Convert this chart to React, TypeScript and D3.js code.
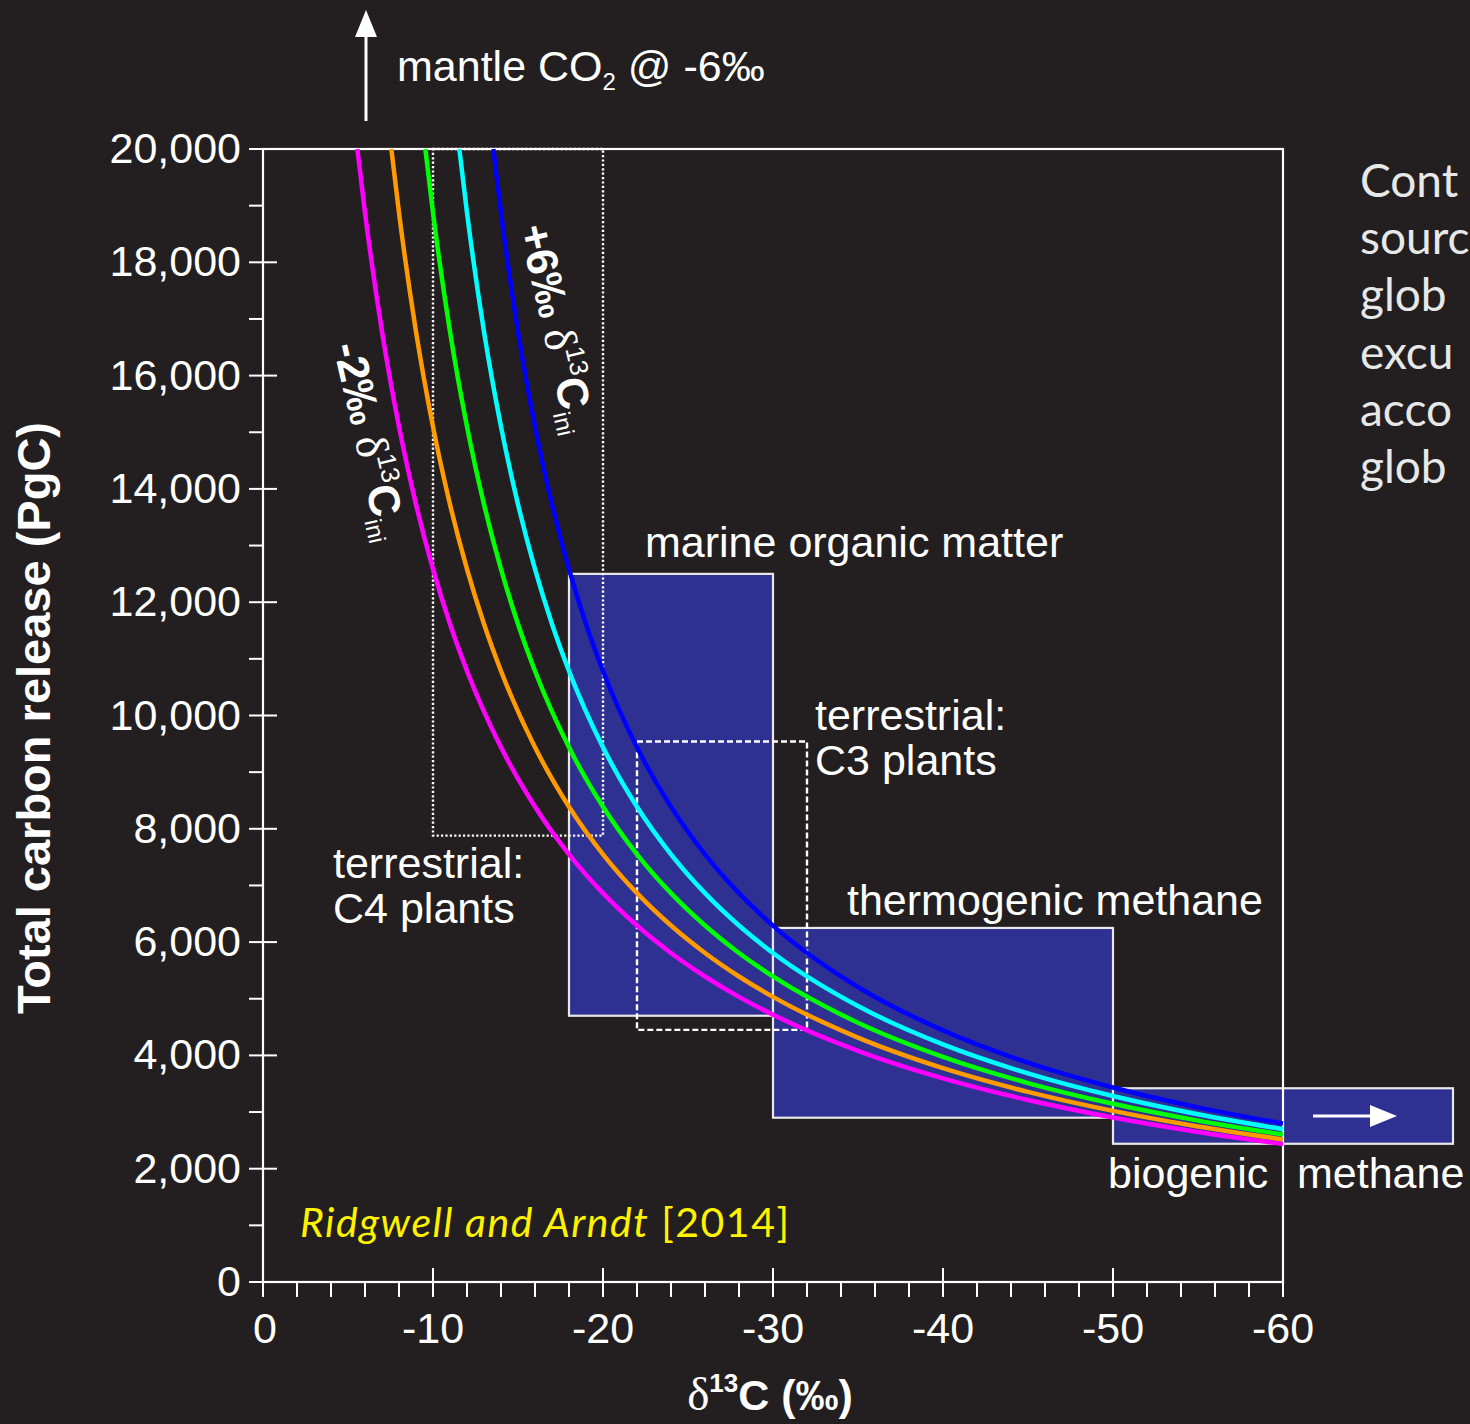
import React, { useEffect } from "react";
import * as d3 from "d3";

// ---------- data ----------
const curveNames = ["-2‰", "0‰", "+2‰", "+4‰", "+6‰"];

const deltaMagenta = [-5.55, -6, -7, -8, -9, -10, -11, -12, -14, -16, -18, -20, -22, -24, -26, -28, -30, -35, -40, -45, -50, -55, -60];
const massMagenta = [20000, 18875, 16778, 15100, 13727, 12583, 11615, 10786, 9438, 8389, 7550, 6864, 6292, 5808, 5393, 5033, 4719, 4081, 3595, 3213, 2904, 2649, 2435];

const deltaOrange = [-7.55, -8, -9, -10, -11, -12, -13, -14, -16, -18, -20, -22, -24, -26, -28, -30, -35, -40, -45, -50, -55, -60];
const massOrange = [20000, 18875, 16778, 15100, 13727, 12583, 11615, 10786, 9438, 8389, 7550, 6864, 6292, 5808, 5393, 5033, 4314, 3775, 3356, 3020, 2745, 2517];

const deltaGreen = [-9.55, -10, -11, -12, -13, -14, -15, -16, -18, -20, -22, -24, -26, -28, -30, -35, -40, -45, -50, -55, -60];
const massGreen = [20000, 18875, 16778, 15100, 13727, 12583, 11615, 10786, 9438, 8389, 7550, 6864, 6292, 5808, 5393, 4576, 3974, 3512, 3146, 2849, 2603];

const deltaCyan = [-11.55, -12, -13, -14, -15, -16, -17, -18, -20, -22, -24, -26, -28, -30, -35, -40, -45, -50, -55, -60];
const massCyan = [20000, 18875, 16778, 15100, 13727, 12583, 11615, 10786, 9438, 8389, 7550, 6864, 6292, 5808, 4871, 4194, 3683, 3283, 2961, 2696];

const deltaBlue = [-13.55, -14, -15, -16, -17, -18, -19, -20, -22, -24, -26, -28, -30, -35, -40, -45, -50, -55, -60];
const massBlue = [20000, 18875, 16778, 15100, 13727, 12583, 11615, 10786, 9438, 8389, 7550, 6864, 6292, 5207, 4441, 3872, 3434, 3083, 2796];

// source boxes: [delta from, delta to], [mass low, mass high]
const boxNames = ["marine organic matter", "thermogenic methane", "biogenic methane"];
const boxDelta = [[-18, -30], [-30, -50], [-50, -70]];
const boxMass = [[4700, 12500], [2900, 6250], [2440, 3420]];

// outlined (terrestrial) boxes
const plantNames = ["C4 plants", "C3 plants"];
const plantDelta = [[-10, -20], [-22, -32]];
const plantMass = [[7880, 20000], [4450, 9540]];

const yMajorTicks = d3.range(0, 20001, 2000);
const yMinorTicks = d3.range(1000, 20000, 2000);
const xMajorTicks = d3.range(0, -61, -10);
const xMinorTicks = d3.range(-2, -60, -2).filter((v) => v % 10 !== 0);

// right-hand note, as much as the reference shows before the page edge
const noteLines = ["Cont", "sourc", "glob", "excu", "acco", "glob"];

// ---------- styles ----------
const BG = "#231f20";
const BOX_FILL = "#2e3192";
const curveColors = ["#ff00ff", "#ff9a00", "#00ff00", "#00ffff", "#0000ff"];
const SANS = "'Liberation Sans', Arial, Helvetica, sans-serif";
const SERIF = "'Liberation Serif', 'Times New Roman', serif";
const GOTHIC = "Lato, 'Open Sans', sans-serif";

export default function App() {
  useEffect(() => {
    document.body.style.margin = "0";
    document.body.style.background = BG;
  }, []);

  const W = 1470;
  const H = 1424;
  const x = d3.scaleLinear().domain([0, -60]).range([263, 1283]);
  const y = d3.scaleLinear().domain([0, 20000]).range([1282, 149]);

  const series = [
    { d: deltaMagenta, m: massMagenta },
    { d: deltaOrange, m: massOrange },
    { d: deltaGreen, m: massGreen },
    { d: deltaCyan, m: massCyan },
    { d: deltaBlue, m: massBlue },
  ];

  const line = d3
    .line<[number, number]>()
    .x((p) => x(p[0]))
    .y((p) => y(p[1]))
    .curve(d3.curveMonotoneX);

  const fs = 43;

  return (
    <svg width={W} height={H} style={{ display: "block", background: BG }} fontFamily={SANS}>
      <rect x={0} y={0} width={W} height={H} fill={BG} />

      {/* source boxes */}
      {boxNames.map((n, i) => {
        const x0 = x(boxDelta[i][0]);
        const x1 = x(boxDelta[i][1]);
        const y0 = y(boxMass[i][1]);
        const y1 = y(boxMass[i][0]);
        return (
          <rect key={n} x={x0} y={y0} width={x1 - x0} height={y1 - y0} fill={BOX_FILL} stroke="#e8e8e8" strokeWidth={2.2} />
        );
      })}

      {/* frame */}
      <rect x={x(0)} y={y(20000)} width={x(-60) - x(0)} height={y(0) - y(20000)} fill="none" stroke="#ffffff" strokeWidth={2.2} />

      {/* terrestrial plant boxes */}
      {plantNames.map((n, i) => {
        const x0 = x(plantDelta[i][0]);
        const x1 = x(plantDelta[i][1]);
        const y0 = y(plantMass[i][1]);
        const y1 = y(plantMass[i][0]);
        return (
          <rect
            key={n}
            x={x0}
            y={y0}
            width={x1 - x0}
            height={y1 - y0}
            fill="none"
            stroke="#ffffff"
            strokeWidth={2.4}
            strokeDasharray={i === 0 ? "2.2 2.2" : "6 3"}
          />
        );
      })}

      {/* curves */}
      {series.map((s, i) => (
        <path
          key={curveNames[i]}
          d={line(s.d.map((v, k) => [v, s.m[k]] as [number, number])) || ""}
          fill="none"
          stroke={curveColors[i]}
          strokeWidth={4.5}
        />
      ))}

      {/* y axis ticks */}
      {yMajorTicks.map((t) => (
        <g key={"ym" + t}>
          <line x1={249} x2={277} y1={y(t)} y2={y(t)} stroke="#fff" strokeWidth={2} />
          <text x={241} y={y(t) + 14} fill="#fff" fontSize={fs} textAnchor="end">
            {d3.format(",")(t)}
          </text>
        </g>
      ))}
      {yMinorTicks.map((t) => (
        <line key={"yn" + t} x1={249} x2={263} y1={y(t)} y2={y(t)} stroke="#fff" strokeWidth={2} />
      ))}
      <line x1={249} x2={263} y1={y(20000)} y2={y(20000)} stroke="#fff" strokeWidth={2} />

      {/* x axis ticks */}
      {xMajorTicks.map((t) => (
        <g key={"xm" + t}>
          <line x1={x(t)} x2={x(t)} y1={1268} y2={1297} stroke="#fff" strokeWidth={2} />
          <text x={x(t) + (t === 0 ? 2 : 0)} y={1343} fill="#fff" fontSize={fs} textAnchor="middle">
            {t === 0 ? "0" : String(t)}
          </text>
        </g>
      ))}
      {xMinorTicks.map((t) => (
        <line key={"xn" + t} x1={x(t)} x2={x(t)} y1={1282} y2={1297} stroke="#fff" strokeWidth={2} />
      ))}

      {/* axis titles */}
      <text transform="translate(50,718) rotate(-90)" textAnchor="middle" fill="#fff" fontSize={47} fontWeight="bold">
        Total carbon release (PgC)
      </text>
      <text x={x(-30) - 3} y={1410} textAnchor="middle" fill="#fff" fontSize={fs}>
        <tspan fontFamily={SERIF} fontSize={47}>δ</tspan>
        <tspan dy={-18} fontSize={26} fontWeight="bold">13</tspan>
        <tspan dy={18} fontWeight="bold">C (‰)</tspan>
      </text>

      {/* mantle arrow */}
      <line x1={366} x2={366} y1={121} y2={30} stroke="#fff" strokeWidth={3} />
      <path d="M366,10 L355,37 L377,37 Z" fill="#fff" />
      <text x={397} y={81} fill="#fff" fontSize={fs}>
        mantle CO<tspan dy={9} fontSize={24}>2</tspan>
        <tspan dy={-9}> @ -6‰</tspan>
      </text>

      {/* box labels */}
      <text x={645} y={557} fill="#fff" fontSize={fs}>marine organic matter</text>
      <text x={815} y={730} fill="#fff" fontSize={fs}>terrestrial:</text>
      <text x={815} y={775} fill="#fff" fontSize={fs}>C3 plants</text>
      <text x={847} y={915} fill="#fff" fontSize={fs}>thermogenic methane</text>
      <text x={333} y={878} fill="#fff" fontSize={fs}>terrestrial:</text>
      <text x={333} y={923} fill="#fff" fontSize={fs}>C4 plants</text>
      <text x={1108} y={1188} fill="#fff" fontSize={fs}>biogenic</text>
      <text x={1297} y={1188} fill="#fff" fontSize={fs}>methane</text>

      {/* biogenic arrow */}
      <line x1={1313} x2={1375} y1={1116} y2={1116} stroke="#fff" strokeWidth={3} />
      <path d="M1397,1116 L1370,1105 L1370,1127 Z" fill="#fff" />

      {/* curve labels */}
      <text transform="translate(519,228) rotate(77)" fill="#fff" fontSize={44}>
        <tspan fontWeight="bold">+6‰ </tspan>
        <tspan fontFamily={SERIF} fontSize={46}>δ</tspan>
        <tspan dy={-18} fontSize={26}>13</tspan>
        <tspan dy={18} fontWeight="bold">C</tspan>
        <tspan dy={9} fontSize={24}>ini</tspan>
      </text>
      <text transform="translate(333,346) rotate(77)" fill="#fff" fontSize={44}>
        <tspan fontWeight="bold">-2‰ </tspan>
        <tspan fontFamily={SERIF} fontSize={46}>δ</tspan>
        <tspan dy={-18} fontSize={26}>13</tspan>
        <tspan dy={18} fontWeight="bold">C</tspan>
        <tspan dy={9} fontSize={24}>ini</tspan>
      </text>

      {/* citation */}
      <text x={300} y={1237} fill="#fff200" fontSize={41} fontFamily={GOTHIC} letterSpacing={1.5}>
        <tspan fontStyle="italic">Ridgwell and Arndt</tspan>
        <tspan> [2014]</tspan>
      </text>

      {/* right-hand note */}
      {noteLines.map((t, i) => (
        <text key={i} x={1360} y={197 + i * 57.2} fill="#e8e8e8" fontSize={46} fontFamily={GOTHIC}>
          {t}
        </text>
      ))}
    </svg>
  );
}
